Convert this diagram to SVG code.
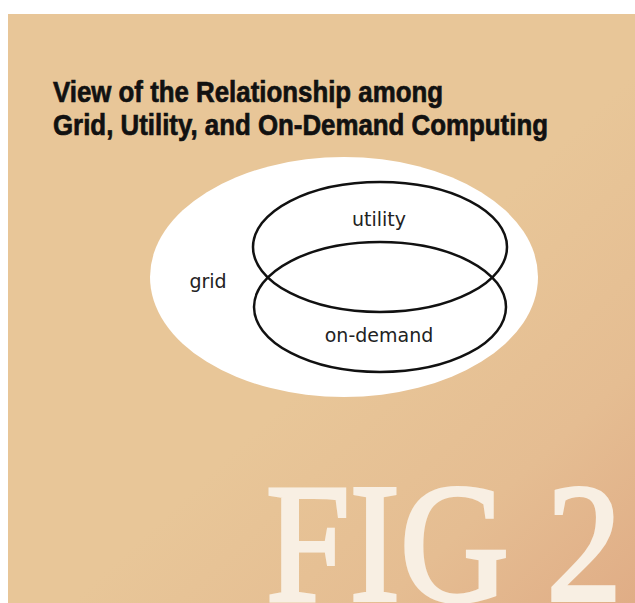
<svg xmlns="http://www.w3.org/2000/svg" width="635" height="603" viewBox="0 0 635 603">
  <defs>
    <linearGradient id="bg" x1="0" y1="0" x2="1" y2="1">
      <stop offset="0" stop-color="#e8c698"/>
      <stop offset="0.55" stop-color="#e8c698"/>
      <stop offset="0.8" stop-color="#e5bd92"/>
      <stop offset="1" stop-color="#e0ad86"/>
    </linearGradient>
    <style>
      .title { font-family: "Liberation Sans", Arial, sans-serif; font-weight: bold; font-size: 30px; fill: #111; stroke: #111; stroke-width: 0.7; }
      .lbl { font-family: "DejaVu Sans", Verdana, sans-serif; font-size: 19px; fill: #222; }
      .set { fill: none; stroke: #111; stroke-width: 2.5; }
      .fig { font-family: "Liberation Serif", "Times New Roman", serif; font-size: 170px; fill: #f8efe3; stroke: #f8efe3; stroke-width: 4; }
    </style>
  </defs>
  <rect x="0" y="0" width="635" height="603" fill="#ffffff"/>
  <rect x="8" y="14" width="627" height="589" fill="url(#bg)"/>

  <g id="title">
    <text class="title" x="53" y="102" textLength="390" lengthAdjust="spacingAndGlyphs">View of the Relationship among</text>
    <text class="title" x="53" y="135" textLength="495" lengthAdjust="spacingAndGlyphs">Grid, Utility, and On-Demand Computing</text>
  </g>

  <g id="fig-label">
    <text class="fig" x="266" y="600" textLength="356" lengthAdjust="spacingAndGlyphs">FIG 2</text>
  </g>

  <g id="grid">
    <ellipse cx="344" cy="277" rx="194" ry="120" fill="#ffffff"/>
    <text class="lbl" x="208" y="288" text-anchor="middle">grid</text>
  </g>

  <g id="utility">
    <ellipse class="set" cx="380" cy="247" rx="127" ry="65"/>
    <text class="lbl" x="379" y="226" text-anchor="middle">utility</text>
  </g>

  <g id="on-demand">
    <ellipse class="set" cx="380" cy="307" rx="126" ry="65"/>
    <text class="lbl" x="379" y="342" text-anchor="middle">on-demand</text>
  </g>

  <g id="connectors"/>
</svg>
